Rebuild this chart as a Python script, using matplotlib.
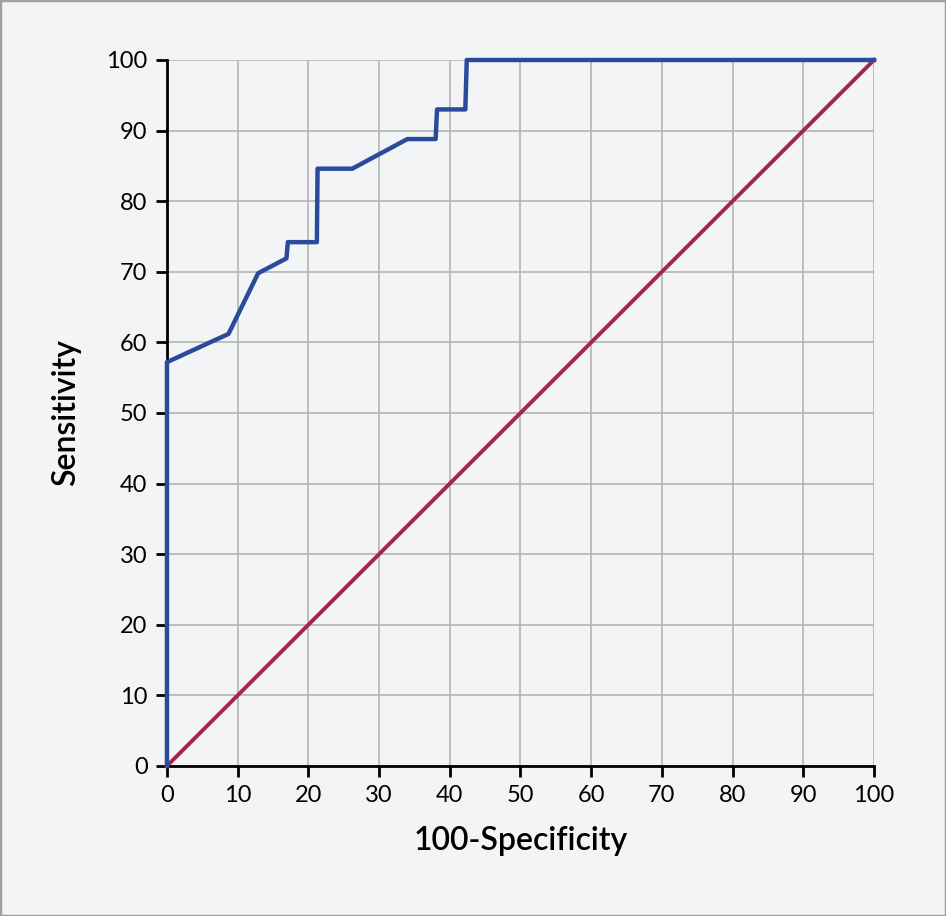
import matplotlib
matplotlib.use("Agg")
import matplotlib.pyplot as plt
from matplotlib.patches import Rectangle

# ROC curve points
fpr = [0, 0, 8.7, 12.9, 16.9, 17.1, 21.2, 21.3, 26.2, 34.0, 38.0, 38.2, 42.2, 42.4, 100]
sens = [0, 57.2, 61.2, 69.8, 71.9, 74.2, 74.2, 84.6, 84.6, 88.8, 88.8, 93.0, 93.0, 100, 100]
ref_x = [0, 100]
ref_y = [0, 100]
ticks = list(range(0, 101, 10))

plt.rcParams['font.family'] = ['Lato', 'DejaVu Sans']

fig = plt.figure(figsize=(9.46, 9.16), dpi=100, facecolor='#f3f4f6')
fig.patches.append(Rectangle((0, 0), 1, 1, transform=fig.transFigure, fill=False,
                             edgecolor='#a0a0a0', linewidth=2.5))
ax = fig.add_axes([0.1765, 0.1638, 0.9239 - 0.1765, 0.9345 - 0.1638])
ax.set_facecolor('#f3f4f6')

ax.plot(ref_x, ref_y, color='#a8234f', lw=2.8, zorder=3, clip_on=False)
ax.plot(fpr, sens, color='#2a4a9a', lw=3.2, zorder=4, clip_on=False)

ax.set_xlim(0, 100)
ax.set_ylim(0, 100)
ax.set_xticks(ticks)
ax.set_yticks(ticks)
ax.grid(True, color='#b4b4b4', lw=1.2)
ax.set_axisbelow(True)
for s in ['top', 'right']:
    ax.spines[s].set_visible(False)
for s in ['left', 'bottom']:
    ax.spines[s].set_linewidth(2)
ax.tick_params(length=8, width=2, labelsize=17, pad=6)

ax.set_xlabel('100-Specificity', fontsize=23, fontweight='semibold', labelpad=14)
ax.set_ylabel('Sensitivity', fontsize=23, fontweight='semibold', labelpad=18)

fig.savefig('out.png', dpi=100, facecolor=fig.get_facecolor())
